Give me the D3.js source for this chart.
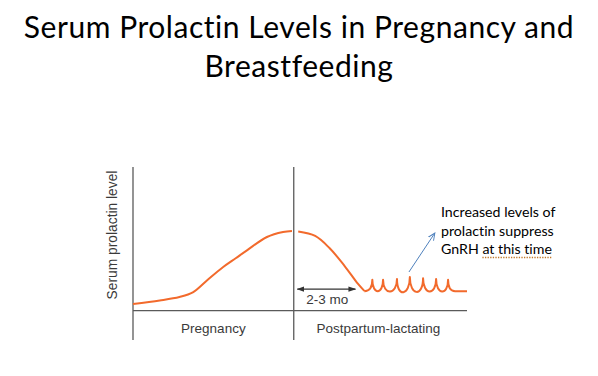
<!DOCTYPE html>
<html>
<head>
<meta charset="utf-8">
<script src="https://cdn.jsdelivr.net/npm/d3@7"></script>
<style>
  body { margin: 0; background: #fff; }
  svg { display: block; }
  text { font-variant-ligatures: none; }
</style>
</head>
<body>
<div id="chart"></div>
<script>
// months since conception (pregnancy = 0-9), level in arbitrary units 0-100
const pregnancyMonths = [0, 1.5, 2.6, 3.35, 4.2, 5.05, 5.75, 6.4, 7.5, 8.4, 8.9]
const pregnancyLevels = [4.7, 7.1, 9.5, 12.7, 21.7, 30.4, 36.5, 42.2, 51.3, 54.8, 55.5]

const postpartumMonths = [9.25, 10.2, 11.0, 11.85, 12.6, 12.95]
const postpartumLevels = [55.1, 52.0, 43.6, 31.1, 18.6, 13.8]

// suckling spikes during lactation
const spikeMonths = [13.4, 14.0, 14.78, 15.5, 16.24, 16.97, 17.64]
const spikeLevels = [21.5, 21.5, 22, 23.5, 22.5, 22, 21.5]
const lactationBase = 13.6
const endMonth = 18.7

const phaseLabels = ["Pregnancy", "Postpartum-lactating"]
const phaseBounds = [0, 9, endMonth]

const titleLines = ["Serum Prolactin Levels in Pregnancy and", "Breastfeeding"]
const noteLines = ["Increased levels of", "prolactin suppress", "GnRH at this time"]

function drawChart() {
    const dimensions = {
        width: 598,
        height: 376,
        left: 133,
        right: 467,
        baseline: 310.7,
        top: 167,
        bottom: 340,
    }

    const svg = d3.select("#chart")
        .append("svg")
            .attr("width", dimensions.width)
            .attr("height", dimensions.height)

    const xScale = d3.scaleLinear()
        .domain([0, endMonth])
        .range([dimensions.left, dimensions.right])

    const yScale = d3.scaleLinear()
        .domain([0, 100])
        .range([dimensions.baseline, dimensions.top])

  // Title
    svg.append("g")
        .selectAll("text")
        .data(titleLines)
        .join("text")
            .attr("x", dimensions.width / 2)
            .attr("y", (d, i) => 38 + i * 39)
            .attr("text-anchor", "middle")
            .style("font-family", "Lato, 'Open Sans', sans-serif")
            .style("font-size", "30px")
            .style("letter-spacing", "0.55px")
            .attr("fill", "#000")
            .text(d => d)

  // Axes frame
    const axisColor = "#5a5a5a"
    svg.append("line")
        .attr("x1", xScale(0))
        .attr("x2", xScale(endMonth))
        .attr("y1", yScale(0))
        .attr("y2", yScale(0))
        .attr("stroke", axisColor)
        .attr("stroke-width", 1.3)

    svg.append("g")
        .selectAll("line")
        .data(phaseBounds.slice(0, 2))
        .join("line")
            .attr("x1", d => xScale(d))
            .attr("x2", d => xScale(d))
            .attr("y1", dimensions.top)
            .attr("y2", dimensions.bottom)
            .attr("stroke", axisColor)
            .attr("stroke-width", 1.3)

    const labelFont = "'Liberation Sans', Arial, sans-serif"
    svg.append("g")
        .selectAll("text")
        .data(phaseLabels)
        .join("text")
            .attr("x", (d, i) => (xScale(phaseBounds[i]) + xScale(phaseBounds[i + 1])) / 2 + (i == 0 ? 0 : -2))
            .attr("y", 333)
            .attr("text-anchor", "middle")
            .style("font-family", labelFont)
            .style("font-size", "13.5px")
            .attr("fill", "#3a3a3a")
            .text(d => d)

    svg.append("text")
        .attr("transform", `translate(117, 235) rotate(-90)`)
        .attr("text-anchor", "middle")
        .style("font-family", labelFont)
        .style("font-size", "13.8px")
        .attr("fill", "#3a3a3a")
        .text("Serum prolactin level")

  // Prolactin curve
    const curveColor = "#f26a2c"
    const lineGenerator = d3.line()
        .x(d => xScale(d[0]))
        .y(d => yScale(d[1]))
        .curve(d3.curveCatmullRom.alpha(0.5))

    svg.append("path")
        .attr("d", lineGenerator(d3.zip(pregnancyMonths, pregnancyLevels)))
        .attr("fill", "none")
        .attr("stroke", curveColor)
        .attr("stroke-width", 2)

    // postpartum decline followed by scalloped spikes
    const p = d3.path()
    const declinePath = lineGenerator(d3.zip(postpartumMonths, postpartumLevels))

    const baseY = yScale(lactationBase)
    let prevX = xScale(postpartumMonths[postpartumMonths.length - 1])
    p.moveTo(prevX, baseY)
    spikeMonths.forEach((m, i) => {
        const sx = xScale(m)
        const sy = yScale(spikeLevels[i])
        if (i == 0) {
            p.bezierCurveTo(prevX + (sx - prevX) * 0.6, baseY, sx, baseY - 3, sx, sy)
        } else {
            const py = yScale(spikeLevels[i - 1])
            const depth = (baseY - Math.min(py, sy)) / 0.75
            p.bezierCurveTo(prevX, py + depth, sx, sy + depth, sx, sy)
        }
        prevX = sx
    })
    const lastX = xScale(spikeMonths[spikeMonths.length - 1])
    p.bezierCurveTo(lastX, baseY - 3, lastX + 3, baseY, lastX + 7, baseY)
    p.lineTo(xScale(endMonth), baseY)

    svg.append("path")
        .attr("d", declinePath + p.toString())
        .attr("fill", "none")
        .attr("stroke", curveColor)
        .attr("stroke-width", 2)
        .attr("stroke-linejoin", "round")

  // 2-3 mo marker
    const defs = svg.append("defs")
    defs.append("marker")
        .attr("id", "blackHead")
        .attr("viewBox", "0 0 10 10")
        .attr("refX", 9)
        .attr("refY", 5)
        .attr("markerWidth", 7)
        .attr("markerHeight", 7)
        .attr("orient", "auto-start-reverse")
        .append("path")
            .attr("d", "M0,1.5 L10,5 L0,8.5 Z")
            .attr("fill", "#333")

    defs.append("marker")
        .attr("id", "blueHead")
        .attr("viewBox", "0 0 10 10")
        .attr("refX", 9)
        .attr("refY", 5)
        .attr("markerWidth", 8)
        .attr("markerHeight", 8)
        .attr("orient", "auto")
        .append("path")
            .attr("d", "M0,1 L9,5 L0,9")
            .attr("fill", "none")
            .attr("stroke", "#4f81bd")
            .attr("stroke-width", 1.2)

    const markerY = yScale(15)
    svg.append("line")
        .attr("x1", xScale(9.2))
        .attr("x2", xScale(12.45))
        .attr("y1", markerY)
        .attr("y2", markerY)
        .attr("stroke", "#333")
        .attr("stroke-width", 1.1)
        .attr("marker-start", "url(#blackHead)")
        .attr("marker-end", "url(#blackHead)")

    svg.append("text")
        .attr("x", xScale(9.7))
        .attr("y", 304)
        .style("font-family", labelFont)
        .style("font-size", "13.5px")
        .attr("fill", "#3a3a3a")
        .text("2-3 mo")

  // Annotation
    svg.append("line")
        .attr("x1", xScale(15.45))
        .attr("y1", 272)
        .attr("x2", xScale(16.9))
        .attr("y2", 233)
        .attr("stroke", "#4f81bd")
        .attr("stroke-width", 1)
        .attr("marker-end", "url(#blueHead)")

    const noteFont = "Lato, 'Open Sans', sans-serif"
    const notes = svg.append("g")
        .selectAll("text")
        .data(noteLines)
        .join("text")
            .attr("x", 441)
            .attr("y", (d, i) => 217 + i * 18.5)
            .style("font-family", noteFont)
            .style("font-size", "14.2px")
            .attr("fill", "#000")
            .text(d => d)

    // spell-check style dotted underline under "at this time"
    const lastNote = notes.nodes()[noteLines.length - 1]
    const lastText = noteLines[noteLines.length - 1]
    const start = lastText.indexOf("at")
    const ux1 = lastNote.getStartPositionOfChar(start).x
    const ux2 = lastNote.getEndPositionOfChar(lastText.length - 1).x
    svg.append("line")
        .attr("x1", ux1)
        .attr("x2", ux2)
        .attr("y1", 257.5)
        .attr("y2", 257.5)
        .attr("stroke", "#c0782a")
        .attr("stroke-width", 1.3)
        .attr("stroke-dasharray", "1.3 1.3")
}

drawChart()
</script>
</body>
</html>
